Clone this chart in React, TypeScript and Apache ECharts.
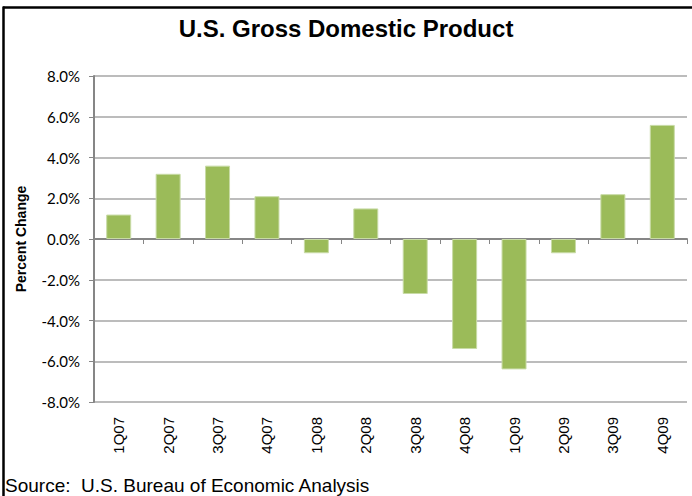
import React, { useEffect, useRef } from "react";
import * as echarts from "echarts";

const categories = ["1Q07", "2Q07", "3Q07", "4Q07", "1Q08", "2Q08", "3Q08", "4Q08", "1Q09", "2Q09", "3Q09", "4Q09"];
const gdpChange = [1.2, 3.2, 3.6, 2.1, -0.7, 1.5, -2.7, -5.4, -6.4, -0.7, 2.2, 5.6];
const titleText = "U.S. Gross Domestic Product";
const yAxisName = "Percent Change";
const sourceText = "Source:  U.S. Bureau of Economic Analysis";

export default function App() {
  const ref = useRef<HTMLDivElement>(null);
  useEffect(() => {
    const chart = echarts.init(ref.current!, null, { renderer: "svg" });
    chart.setOption({
      animation: false,
      backgroundColor: "#ffffff",
      title: {
        text: titleText,
        left: "center",
        top: 11,
        textStyle: { fontFamily: "Liberation Sans", fontWeight: "bold", fontSize: 24, color: "#000" },
      },
      graphic: [
        { type: "line", shape: { x1: 3, y1: 7.5, x2: 692, y2: 7.5 }, style: { stroke: "#000", lineWidth: 2.5 } },
        { type: "line", shape: { x1: 3.5, y1: 6.5, x2: 3.5, y2: 496 }, style: { stroke: "#000", lineWidth: 2.5 } },
        {
          type: "text",
          left: 5,
          top: 476,
          style: { text: sourceText, fontFamily: "Liberation Sans", fontSize: 19, fill: "#000" },
        },
        {
          type: "text",
          x: 21,
          y: 239,
          rotation: Math.PI / 2,
          style: {
            text: yAxisName,
            fontFamily: "Liberation Sans",
            fontWeight: "bold",
            fontSize: 14,
            fill: "#000",
            align: "center",
            verticalAlign: "middle",
          },
        },
      ],
      grid: { left: 94, right: 5, top: 76, bottom: 94, containLabel: false },
      xAxis: [
        {
          type: "category",
          data: categories,
          axisLine: { show: false, onZero: false },
          axisTick: { show: false },
          axisLabel: {
            rotate: 90,
            margin: 15,
            fontFamily: "Liberation Sans",
            fontSize: 15,
            color: "#000",
            interval: 0,
          },
        },
        {
          type: "category",
          data: categories,
          position: "bottom",
          axisLine: { show: true, onZero: true, lineStyle: { color: "#868686", width: 2 } },
          axisTick: { show: true, length: 5, lineStyle: { color: "#868686", width: 1 } },
          axisLabel: { show: false },
        },
      ],
      yAxis: {
        type: "value",
        min: -8,
        max: 8,
        interval: 2,
        axisLine: { show: true, lineStyle: { color: "#868686", width: 2 } },
        axisTick: { show: true, length: 5, lineStyle: { color: "#868686", width: 1 } },
        axisLabel: {
          margin: 14,
          fontFamily: "Lato",
          fontSize: 15,
          color: "#000",
          formatter: (v: number) => v.toFixed(1) + "%",
        },
        splitLine: { show: true, lineStyle: { color: "#A6A6A6", width: 1.5 } },
      },
      series: [
        {
          type: "bar",
          xAxisIndex: 0,
          data: gdpChange,
          barWidth: 25,
          itemStyle: { color: "#9BBB59", borderColor: "#C8DBA6", borderWidth: 1 },
        },
      ],
    });
    return () => chart.dispose();
  }, []);
  return (
    <div
      ref={ref}
      style={{ position: "fixed", left: 0, top: 0, width: 692, height: 496, background: "#fff" }}
    />
  );
}
